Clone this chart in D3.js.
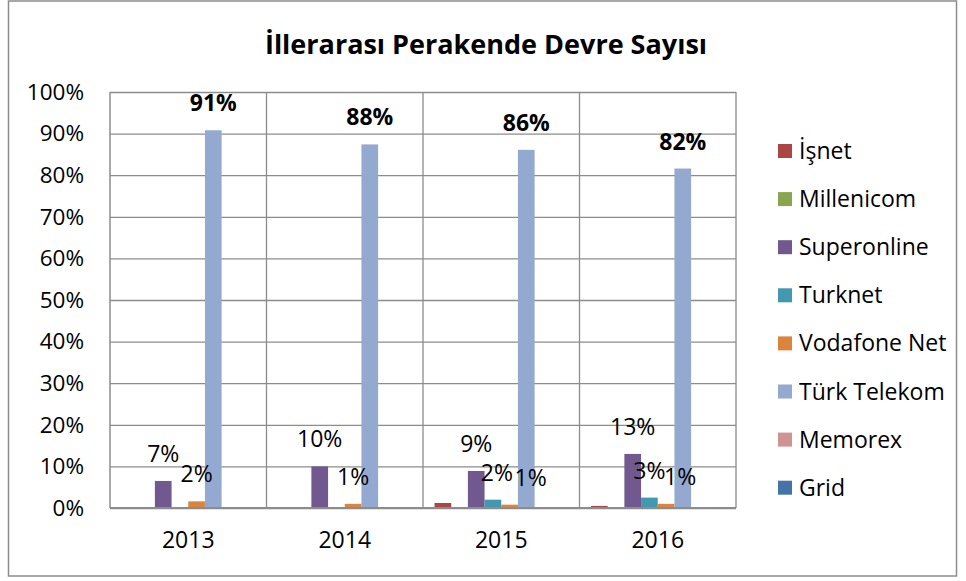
<!DOCTYPE html>
<html>
<head>
<meta charset="utf-8">
<script src="https://cdn.jsdelivr.net/npm/d3@7"></script>
<style>
  body { margin: 0; background: #fff; }
  svg text { font-family: "Open Sans", sans-serif; fill: #000; }
</style>
</head>
<body>
<div id="chart"></div>
<script>
const years = ["2013", "2014", "2015", "2016"];

const seriesNames = ["İşnet", "Millenicom", "Superonline", "Turknet", "Vodafone Net", "Türk Telekom", "Memorex", "Grid"];

const seriesColors = ["#AA4643", "#89A54E", "#71588F", "#4198AF", "#DB843D", "#93A9CF", "#D19392", "#4572A7"];

// values in %, one array per series, by year
const isnet = [0.2, 0.2, 1.2, 0.5];
const millenicom = [0, 0, 0, 0];
const superonline = [6.5, 10, 8.9, 13];
const turknet = [0, 0, 2, 2.5];
const vodafone = [1.6, 1.0, 0.8, 1.0];
const turkTelekom = [90.8, 87.4, 86.1, 81.6];
const memorex = [0, 0, 0, 0];
const grid = [0.2, 0.2, 0, 0];

const seriesValues = [isnet, millenicom, superonline, turknet, vodafone, turkTelekom, memorex, grid];

// data labels: series index, year, text
const labels = [
  { s: 2, year: "2013", text: "7%" },
  { s: 4, year: "2013", text: "2%" },
  { s: 5, year: "2013", text: "91%" },
  { s: 2, year: "2014", text: "10%" },
  { s: 4, year: "2014", text: "1%" },
  { s: 5, year: "2014", text: "88%" },
  { s: 2, year: "2015", text: "9%" },
  { s: 3, year: "2015", text: "2%" },
  { s: 4, year: "2015", text: "1%" },
  { s: 5, year: "2015", text: "86%" },
  { s: 2, year: "2016", text: "13%" },
  { s: 3, year: "2016", text: "3%" },
  { s: 4, year: "2016", text: "1%" },
  { s: 5, year: "2016", text: "82%" }
];

const yTicks = [0, 10, 20, 30, 40, 50, 60, 70, 80, 90, 100];

const width = 966;
const height = 581;
const plot = { left: 110, right: 736, top: 92, bottom: 508 };

const svg = d3.select("#chart")
  .append("svg")
  .attr("width", width)
  .attr("height", height);

// outer frame
svg.append("rect")
  .attr("x", 8.5)
  .attr("y", 1)
  .attr("width", 948)
  .attr("height", 575)
  .attr("fill", "#fff")
  .attr("stroke", "#8c8c8c")
  .attr("stroke-width", 1.5);

svg.append("text")
  .attr("x", 486)
  .attr("y", 54)
  .attr("text-anchor", "middle")
  .style("font-size", "27px")
  .style("font-weight", "bold")
  .text("İllerarası Perakende Devre Sayısı");

const x = d3.scaleBand()
  .domain(years)
  .range([plot.left, plot.right])
  .padding(0);

const xs = d3.scaleBand()
  .domain(d3.range(seriesNames.length))
  .range([0, x.bandwidth()])
  .paddingInner(0)
  .paddingOuter(0.69);

const y = d3.scaleLinear()
  .domain([0, 100])
  .range([plot.bottom, plot.top]);

// horizontal gridlines + y labels
const yAxis = svg.append("g")
  .attr("transform", `translate(${plot.left},0)`)
  .call(d3.axisLeft(y)
    .tickValues(yTicks)
    .tickSize(-(plot.right - plot.left))
    .tickPadding(26)
    .tickFormat(d => d + "%"));
yAxis.select(".domain").remove();
yAxis.selectAll(".tick line")
  .attr("stroke", "#8c8c8c")
  .attr("stroke-width", 1.3);
yAxis.selectAll(".tick text")
  .style("font-size", "22.5px");

// vertical gridlines at category edges
svg.append("g")
  .selectAll("line")
  .data(years)
  .enter()
  .append("line")
  .attr("x1", d => x(d) + x.bandwidth())
  .attr("x2", d => x(d) + x.bandwidth())
  .attr("y1", plot.top)
  .attr("y2", plot.bottom)
  .attr("stroke", "#8c8c8c")
  .attr("stroke-width", 1.3);

// bars
years.forEach((yr, yi) => {
  const g = svg.append("g")
    .attr("transform", `translate(${x(yr)},0)`);
  g.selectAll("rect")
    .data(seriesValues.map((vals, si) => ({ si, v: vals[yi] })))
    .enter()
    .append("rect")
    .attr("x", d => xs(d.si))
    .attr("y", d => y(d.v))
    .attr("width", xs.bandwidth())
    .attr("height", d => y(0) - y(d.v))
    .attr("fill", d => seriesColors[d.si]);
});

// axes lines
svg.append("line")
  .attr("x1", plot.left).attr("x2", plot.left)
  .attr("y1", plot.top).attr("y2", plot.bottom)
  .attr("stroke", "#8c8c8c").attr("stroke-width", 1.5);
svg.append("line")
  .attr("x1", plot.left).attr("x2", plot.right)
  .attr("y1", plot.bottom).attr("y2", plot.bottom)
  .attr("stroke", "#8c8c8c").attr("stroke-width", 2);

// x labels
const xAxis = svg.append("g")
  .attr("transform", `translate(0,${plot.bottom})`)
  .call(d3.axisBottom(x).tickSize(0).tickPadding(24));
xAxis.select(".domain").remove();
xAxis.selectAll(".tick text")
  .style("font-size", "23px");

// data labels, a few nudged right as in the original
const labelShift = { "2015-4": 21, "2016-4": 14, "2015-3": 4 };
svg.append("g")
  .selectAll("text")
  .data(labels)
  .enter()
  .append("text")
  .attr("x", d => x(d.year) + xs(d.s) + xs.bandwidth() / 2 + (labelShift[d.year + "-" + d.s] || 0))
  .attr("y", d => y(seriesValues[d.s][years.indexOf(d.year)]) - 19)
  .attr("text-anchor", "middle")
  .style("font-size", "23px")
  .style("font-weight", d => d.s === 5 ? "bold" : "normal")
  .text(d => d.text);

// legend
const legend = svg.append("g")
  .attr("transform", "translate(778,151)");
seriesNames.forEach((name, i) => {
  const row = legend.append("g")
    .attr("transform", `translate(0,${i * 48.1})`);
  row.append("rect")
    .attr("x", 0)
    .attr("y", -7)
    .attr("width", 14)
    .attr("height", 14)
    .attr("fill", seriesColors[i]);
  row.append("text")
    .attr("x", 21)
    .attr("y", 8)
    .style("font-size", "23px")
    .text(name);
});
</script>
</body>
</html>
